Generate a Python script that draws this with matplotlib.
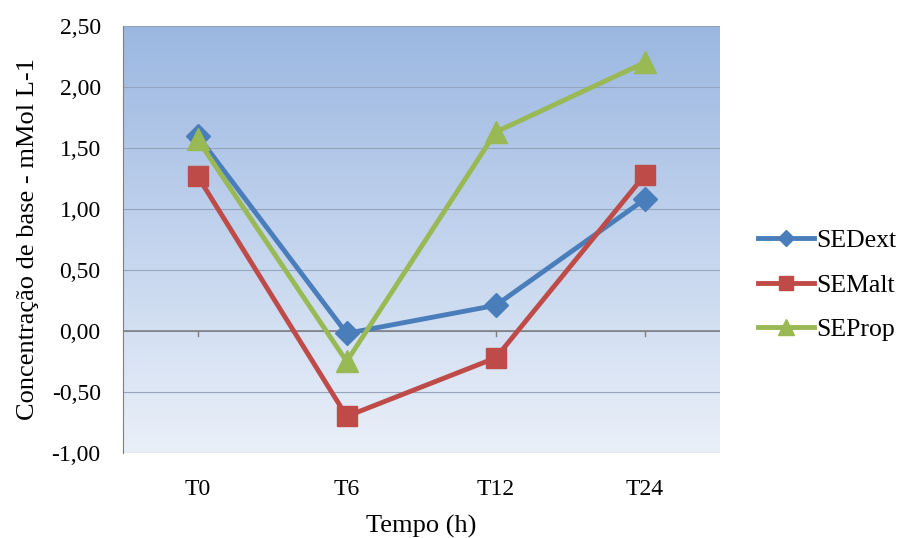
import numpy as np
import matplotlib.pyplot as plt
from matplotlib.ticker import FuncFormatter

plt.rcParams['font.family'] = ['Liberation Serif', 'DejaVu Serif']

tempos = ['T0', 'T6', 'T12', 'T24']
se_dext = [1.60, -0.02, 0.21, 1.08]
se_malt = [1.27, -0.70, -0.22, 1.28]
se_prop = [1.57, -0.25, 1.63, 2.20]

fig = plt.figure(figsize=(9.04, 5.38), dpi=100)
ax = fig.add_axes([0.136, 0.158, 0.66, 0.794])

x = np.arange(len(tempos))
ax.set_xlim(-0.5, 3.5)
ax.set_ylim(-1.0, 2.5)

# fundo em degrade azul
grad = np.linspace(0, 1, 256)[:, None]
top = np.array([155, 183, 225]) / 255
bot = np.array([234, 240, 249]) / 255
img = top + (bot - top) * grad[:, :, None] * np.ones((1, 2, 1))
ax.imshow(img, extent=[-0.5, 3.5, -1.0, 2.5], aspect='auto', zorder=0)

for yv in np.arange(-1.0, 2.51, 0.5):
    ax.axhline(yv, color='#93a3bd', lw=0.8, zorder=1)
ax.axhline(0, color='#7f7f7f', lw=1.2, zorder=2)

ax.plot(x, se_dext, color='#4a7ebb', lw=3.5, marker='D', ms=12, label='SEDext', zorder=3)
ax.plot(x, se_malt, color='#be4b48', lw=3.5, marker='s', ms=15, label='SEMalt', zorder=3)
ax.plot(x, se_prop, color='#98b954', lw=3.5, marker='^', ms=16, label='SEProp', zorder=4)

for sp in ['top', 'right', 'bottom']:
    ax.spines[sp].set_visible(False)
ax.spines['left'].set_color('#7f7f7f')

ax.set_yticks(np.arange(-1.0, 2.51, 0.5))
ax.yaxis.set_major_formatter(FuncFormatter(lambda v, p: f'{v:.2f}'.replace('.', ',')))
ax.set_xticks(x)
ax.set_xticklabels(tempos)
ax.tick_params(axis='y', labelsize=17, length=0, pad=16)
ax.tick_params(axis='x', length=0, labelsize=17, pad=18.5)

# marcas das categorias sobre a linha do zero
for xi in x:
    ax.plot([xi, xi], [0, -0.04], color='#7f7f7f', lw=1, zorder=2)

ax.set_xlabel('Tempo (h)', fontsize=19, labelpad=11)
ax.set_ylabel('Concentração de base - mMol L-1', fontsize=19, labelpad=9)

ax.legend(loc='center left', bbox_to_anchor=(0.838, 0.47), bbox_transform=fig.transFigure,
          frameon=False, fontsize=18.5, handlelength=2.2, labelspacing=0.85,
          handletextpad=0.1, borderaxespad=0, borderpad=0, markerscale=0.7)

fig.savefig('out.png', dpi=100)
